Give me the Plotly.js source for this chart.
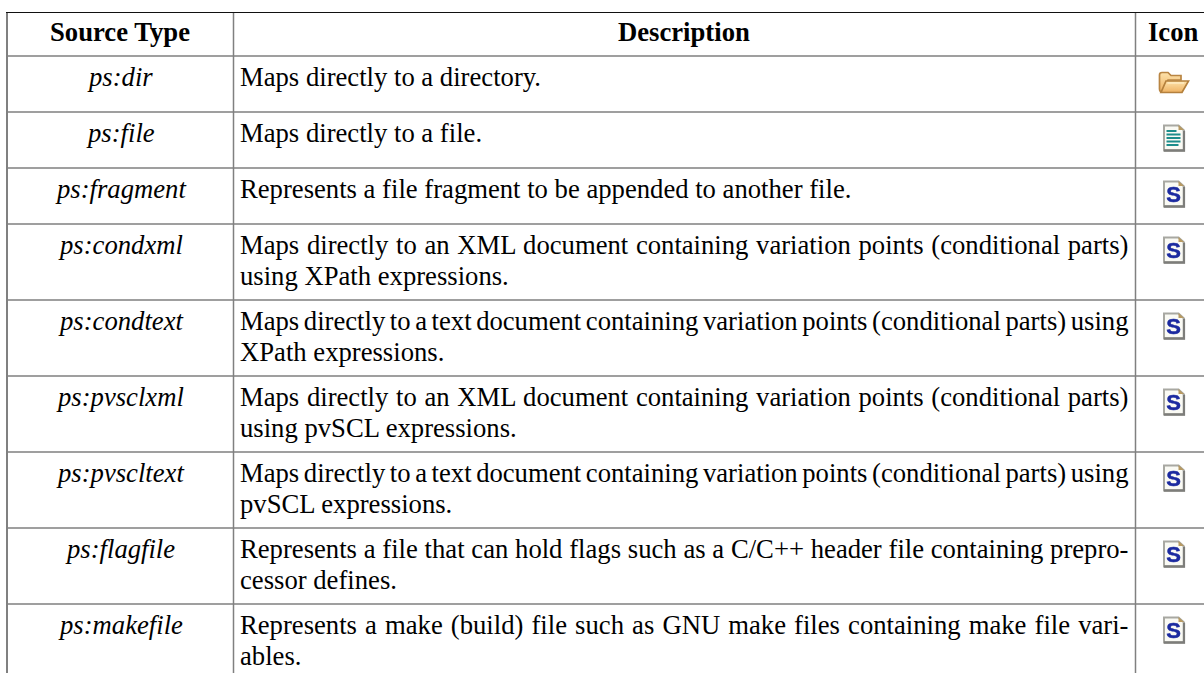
<!DOCTYPE html>
<html><head><meta charset="utf-8">
<script src="https://cdn.plot.ly/plotly-3.0.1.min.js"></script>
<style>html,body{margin:0;padding:0;background:#fff;overflow:hidden}#c{width:1204px;height:673px}</style>
</head><body><div id="c"></div>
<script>
const headers = ["Source Type", "Description", "Icon"];
const sourceTypes = ["ps:dir","ps:file","ps:fragment","ps:condxml","ps:condtext","ps:pvsclxml","ps:pvscltext","ps:flagfile","ps:makefile"];
const descriptions = [
  ["Maps directly to a directory."],
  ["Maps directly to a file."],
  ["Represents a file fragment to be appended to another file."],
  ["Maps directly to an XML document containing variation points (conditional parts)","using XPath expressions."],
  ["Maps directly to a text document containing variation points (conditional parts) using","XPath expressions."],
  ["Maps directly to an XML document containing variation points (conditional parts)","using pvSCL expressions."],
  ["Maps directly to a text document containing variation points (conditional parts) using","pvSCL expressions."],
  ["Represents a file that can hold flags such as a C/C++ header file containing prepro-","cessor defines."],
  ["Represents a make (build) file such as GNU make files containing make file vari-","ables."]
];
const iconKinds = ["folder","doc","src","src","src","src","src","src","src"];

// table geometry (pixels)
const rowRules = [56,112,168,224,300,376,452,528,604];
const colRules = [7,233.5,1135.5];
const topRule = 12.5, rightEdge = 1204, bottomEdge = 673;
const colCenters = [120,684,1173.5];
const textLeft = 240, textRight = 1128.5, lineGap = 31.5;
const FONT = "'Liberation Serif','Times New Roman',serif", SIZE = 26.67;

const shapes = [], annotations = [], images = [];
const line = (x0,y0,x1,y1,color,width)=>shapes.push({type:'line',xref:'x',yref:'y',x0,y0,x1,y1,line:{color,width}});
rowRules.forEach(y=>line(colRules[0],y,rightEdge,y,'#7f7f7f',1.5));
colRules.forEach((x,i)=>line(x,topRule,x,bottomEdge,'#808080',i===0?2:1.5));
line(colRules[0]-1,topRule,rightEdge,topRule,'#111111',1.2);

const common = {xref:'x',yref:'y',showarrow:false,borderpad:0,borderwidth:0,yanchor:'middle'};
headers.forEach((h,i)=>annotations.push({...common,x:colCenters[i],y:32,text:'<b>'+h+'</b>',
  xanchor:'center',font:{family:FONT,size:SIZE,color:'#000'}}));

const tops = rowRules;
const justify = [];
sourceTypes.forEach((s,r)=>{
  annotations.push({...common,x:colCenters[0],y:tops[r]+20.5,text:'<i>'+s+'</i>',
    xanchor:'center',font:{family:FONT,size:SIZE,color:'#000'}});
  descriptions[r].forEach((t,k)=>{
    justify.push(k<descriptions[r].length-1);
    annotations.push({...common,x:textLeft,y:tops[r]+20.5+k*lineGap,text:t,align:'left',
      xanchor:'left',name:'desc',font:{family:FONT,size:SIZE,color:'#000'}});
  });
});

const svgURI = s => 'data:image/svg+xml;charset=utf-8,'+encodeURIComponent(s);
const blur = '<defs><filter id="b" x="-10%" y="-10%" width="120%" height="120%"><feGaussianBlur stdDeviation="0.55"/></filter><linearGradient id="g" x1="0" y1="0" x2="0" y2="1"><stop offset="0" stop-color="#fde2ab"/><stop offset="1" stop-color="#eeb161"/></linearGradient></defs>';
const page = inner => '<svg xmlns="http://www.w3.org/2000/svg" width="23" height="28" viewBox="0 0 23 28">'+blur+'<g filter="url(#b)">'+
  '<path d="M1.5 1.5H16L21.5 6.5V26.5H1.5Z" fill="#fafaf4" stroke="#a8a8a2" stroke-width="2"/>'+
  '<path d="M1.5 26.5H21.5V7" fill="none" stroke="#7d7d7a" stroke-width="2.4"/>'+
  '<path d="M16 1L21.5 6H16Z" fill="#b89a62"/>'+inner+'</g></svg>';
const icons = {
  folder:{w:32,h:23,svg:'<svg xmlns="http://www.w3.org/2000/svg" width="32" height="23" viewBox="0 0 32 23">'+blur+'<g filter="url(#b)">'+
    '<path d="M1.5 4Q1.5 1.5 4 1.5H10L13 4.5H23V9H10L5 21Q1.5 21.5 1.5 18Z" fill="url(#g)" stroke="#b98543" stroke-width="1.7"/>'+
    '<path d="M8 10H30.5L24 21.5H3Z" fill="url(#g)" stroke="#b4803c" stroke-width="1.7"/>'+
    '<path d="M9.5 12H26" stroke="#fff0cc" stroke-width="1.2"/></g></svg>'},
  doc:{w:23,h:28,svg:page('<g stroke="#1f8d8b" stroke-width="1.8"><path d="M4 7H14M4 10.5H18M4 14H18M4 17.5H18M4 21H16"/></g>')},
  src:{w:23,h:28,svg:page('<text x="11" y="22" text-anchor="middle" font-family="Liberation Sans,DejaVu Sans,sans-serif" font-weight="700" font-size="22" stroke="#1c2ba0" stroke-width="0.5" fill="#1c2ba0">S</text>')}
};
const iconCx = 1174;
iconKinds.forEach((k,r)=>{
  const ic = icons[k];
  images.push({source:svgURI(ic.svg),xref:'x',yref:'y',x:iconCx-ic.w/2,y:k==='folder'?tops[r]+15:tops[r]+12,sizex:ic.w,sizey:ic.h,
    xanchor:'left',yanchor:'top',sizing:'stretch',layer:'above'});
});

const axis = range => ({range,visible:false,fixedrange:true,showgrid:false,zeroline:false});
Plotly.newPlot('c',[],{
  width:1204,height:673,margin:{l:0,r:0,t:0,b:0,pad:0},
  paper_bgcolor:'#fff',plot_bgcolor:'#fff',showlegend:false,
  xaxis:axis([0,1204]),yaxis:axis([673,0]),
  shapes,annotations,images
},{staticPlot:true,displayModeBar:false}).then(gd=>{
  // justify the wrapped description lines to the cell width, as in the source table
  const descAnn = gd.layout.annotations.map((a,i)=>a.name==='desc'?i:-1).filter(i=>i>=0);
  descAnn.forEach((idx,j)=>{
    if(!justify[j]) return;
    const el = gd.querySelector('.annotation[data-index="'+idx+'"] text');
    if(!el) return;
    const gaps = el.textContent.split(' ').length-1;
    el.style.wordSpacing = ((textRight-textLeft-el.getComputedTextLength())/gaps)+'px';
  });
});
</script></body></html>
